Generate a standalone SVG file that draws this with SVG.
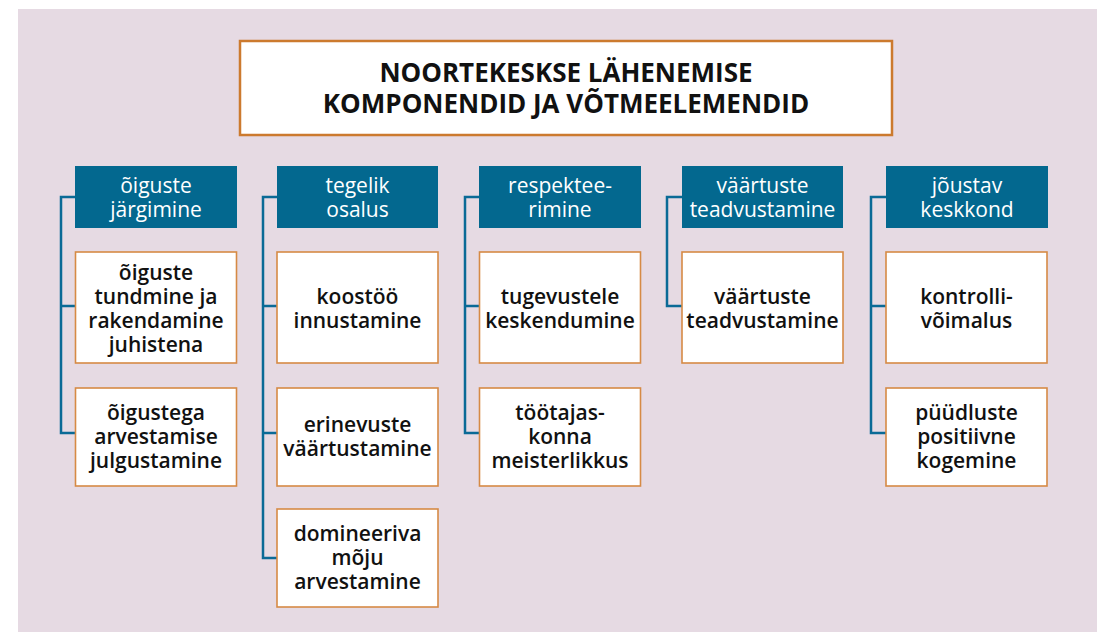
<svg xmlns="http://www.w3.org/2000/svg" width="1097" height="632" viewBox="0 0 1097 632">
<style>
.hd{fill:#03688f}
.bx{fill:#ffffff;stroke:#d68a45;stroke-width:1.6}
.tt{fill:#ffffff;stroke:#cc7a2e;stroke-width:2.5}
.ht{font-family:"Open Sans","Noto Sans",sans-serif;font-size:21px;font-weight:500;fill:#ffffff;text-anchor:middle}
.ct{font-family:"Open Sans","Noto Sans",sans-serif;font-size:21px;font-weight:600;fill:#111111;text-anchor:middle}
.ti{font-family:"Open Sans","Noto Sans",sans-serif;font-size:26px;font-weight:700;fill:#111111;text-anchor:middle}
.cn{fill:none;stroke:#0a6a96;stroke-width:2.5}
</style>
<rect x="0" y="0" width="1097" height="632" fill="#ffffff"/>
<rect x="18" y="9" width="1079" height="623" fill="#e6dae3"/>
<g id="connectors">
<path class="cn" d="M75,197 H61 V433 H75 M61,306 H75"/>
<path class="cn" d="M277,197 H263 V558 H277 M263,306 H277 M263,433 H277"/>
<path class="cn" d="M479,197 H465 V433 H479 M465,306 H479"/>
<path class="cn" d="M682,197 H667 V306 H682"/>
<path class="cn" d="M886,197 H871 V433 H886 M871,306 H886"/>
</g>
<g id="title">
<rect class="tt" x="240" y="41" width="652" height="94"/>
<text class="ti" x="566" y="82">NOORTEKESKSE LÄHENEMISE</text>
<text class="ti" x="566" y="113">KOMPONENDID JA VÕTMEELEMENDID</text>
</g>
<g id="h1"><rect class="hd" x="75" y="166" width="162" height="62"/><text class="ht" x="156" y="193">õiguste</text><text class="ht" x="156" y="217">järgimine</text></g>
<g id="h2"><rect class="hd" x="277" y="166" width="161" height="62"/><text class="ht" x="357.5" y="193">tegelik</text><text class="ht" x="357.5" y="217">osalus</text></g>
<g id="h3"><rect class="hd" x="479" y="166" width="162" height="62"/><text class="ht" x="560" y="193">respektee-</text><text class="ht" x="560" y="217">rimine</text></g>
<g id="h4"><rect class="hd" x="682" y="166" width="161" height="62"/><text class="ht" x="762.5" y="193">väärtuste</text><text class="ht" x="762.5" y="217">teadvustamine</text></g>
<g id="h5"><rect class="hd" x="886" y="166" width="162" height="62"/><text class="ht" x="967" y="193">jõustav</text><text class="ht" x="967" y="217">keskkond</text></g>
<g id="c1a"><rect class="bx" x="75.5" y="252" width="161" height="111"/><text class="ct" x="156" y="280">õiguste</text><text class="ct" x="156" y="304">tundmine ja</text><text class="ct" x="156" y="328">rakendamine</text><text class="ct" x="156" y="352">juhistena</text></g>
<g id="c1b"><rect class="bx" x="75.5" y="388" width="161" height="98"/><text class="ct" x="156" y="420">õigustega</text><text class="ct" x="156" y="444">arvestamise</text><text class="ct" x="156" y="468">julgustamine</text></g>
<g id="c2a"><rect class="bx" x="277" y="252" width="161" height="111"/><text class="ct" x="357.5" y="304">koostöö</text><text class="ct" x="357.5" y="328">innustamine</text></g>
<g id="c2b"><rect class="bx" x="277" y="388" width="161" height="98"/><text class="ct" x="357.5" y="432">erinevuste</text><text class="ct" x="357.5" y="456">väärtustamine</text></g>
<g id="c2c"><rect class="bx" x="277" y="509" width="161" height="98"/><text class="ct" x="357.5" y="541">domineeriva</text><text class="ct" x="357.5" y="565">mõju</text><text class="ct" x="357.5" y="589">arvestamine</text></g>
<g id="c3a"><rect class="bx" x="479.5" y="252" width="161" height="111"/><text class="ct" x="560" y="304">tugevustele</text><text class="ct" x="560" y="328">keskendumine</text></g>
<g id="c3b"><rect class="bx" x="479.5" y="388" width="161" height="98"/><text class="ct" x="560" y="420">töötajas-</text><text class="ct" x="560" y="444">konna</text><text class="ct" x="560" y="468">meisterlikkus</text></g>
<g id="c4a"><rect class="bx" x="682" y="252" width="161" height="111"/><text class="ct" x="762.5" y="304">väärtuste</text><text class="ct" x="762.5" y="328">teadvustamine</text></g>
<g id="c5a"><rect class="bx" x="886" y="252" width="161" height="111"/><text class="ct" x="966.5" y="304">kontrolli-</text><text class="ct" x="966.5" y="328">võimalus</text></g>
<g id="c5b"><rect class="bx" x="886" y="388" width="161" height="98"/><text class="ct" x="966.5" y="420">püüdluste</text><text class="ct" x="966.5" y="444">positiivne</text><text class="ct" x="966.5" y="468">kogemine</text></g>
</svg>
